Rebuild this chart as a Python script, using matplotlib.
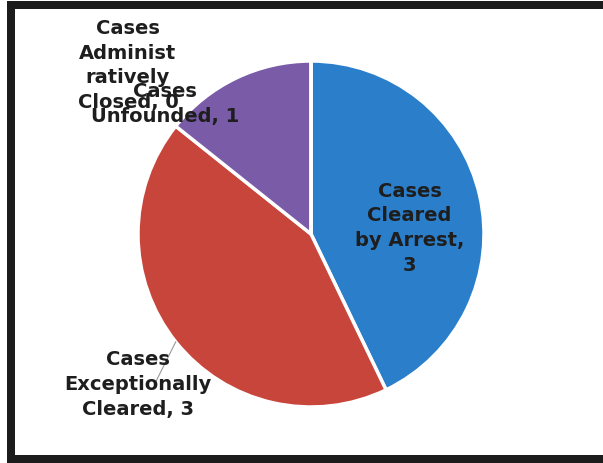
import matplotlib
matplotlib.use("Agg")
from matplotlib import pyplot as plt
from matplotlib.patches import Rectangle
import numpy as np

categories = ["Cases Cleared by Arrest", "Cases Exceptionally Cleared",
              "Cases Unfounded", "Cases Administratively Closed"]
values = [3, 3, 1, 0]
labels = ["Cases\nCleared\nby Arrest,\n3", "Cases\nExceptionally\nCleared, 3",
          "Cases\nUnfounded, 1", "Cases\nAdminist\nratively\nClosed, 0"]
colors = ["#2b7fca", "#c8453b", "#7a5ba8", "#4a9a5a"]

fig = plt.figure(figsize=(6.03, 4.64), dpi=100)
fig.patch.set_facecolor("white")

# picture frame (open on the right side)
W, H = 603, 464
fig.patches.append(Rectangle((7 / W, 0), 1.2, (464 - 2) / H,
                             transform=fig.transFigure, facecolor="#1c1c1c",
                             edgecolor="none", zorder=-10))
fig.patches.append(Rectangle((15 / W, (H - 456) / H), 1.2, (456 - 10) / H,
                             transform=fig.transFigure, facecolor="white",
                             edgecolor="none", zorder=-9))

cx, cy, r = 311, 235, 173
ax = fig.add_axes([(cx - r) / W, (H - cy - r) / H, 2 * r / W, 2 * r / H])
ax.set_facecolor("none")
wedges, _ = ax.pie(values, colors=colors, startangle=90, counterclock=False,
                   radius=1, wedgeprops=dict(edgecolor="white", linewidth=2.5))
ax.set_xlim(-1, 1)
ax.set_ylim(-1, 1)
ax.set_aspect("equal")
ax.axis("off")

font = dict(fontsize=14, fontweight="bold", color="#1e1e1e", family="DejaVu Sans",
            ha="center", va="center", linespacing=1.38, clip_on=False)

# label positions in pie units
pos = [(0.57, 0.04), (-1.0, -0.865), (-0.845, 0.757), (-1.058, 0.98)]
for w, lab, (x, y) in zip(wedges, labels, pos):
    ax.text(x, y, lab, zorder=5, **font)

# leader line for the exceptionally cleared slice
w = wedges[1]
mid = np.deg2rad((w.theta1 + w.theta2) / 2)
ax.plot([np.cos(mid), -0.90], [np.sin(mid), -0.86], color="#999999",
        linewidth=0.8, zorder=4, clip_on=False)

fig.savefig("out.png", dpi=100)
